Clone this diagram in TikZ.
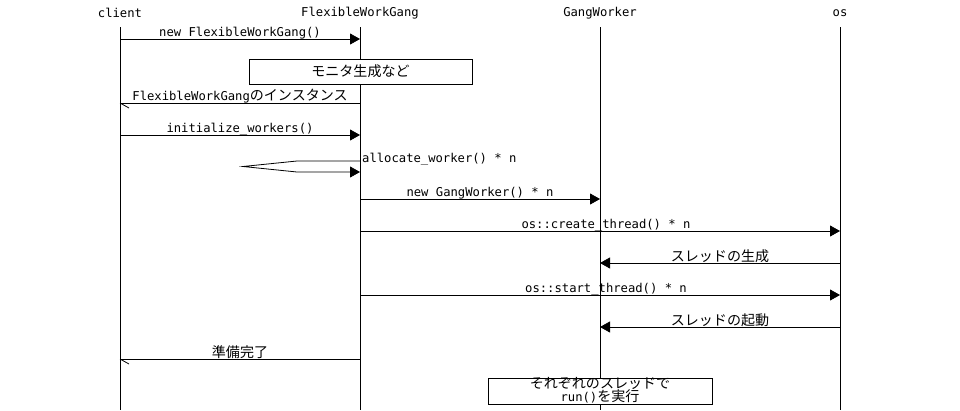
\documentclass[tikz,border=0pt]{standalone}
\usepackage{fontspec}
\setmainfont{DejaVu Sans Mono}
\newfontfamily\jp{Noto Sans CJK JP}[Scale=1.15]
\usetikzlibrary{arrows.meta}
\begin{document}
\begin{tikzpicture}[x=1pt,y=-1pt,
  lbl/.style={font=\fontsize{12.2}{13}\selectfont, inner sep=1pt},
  mlbl/.style={lbl, above=-1.5pt},
  life/.style={line width=0.8pt},
  msg/.style={line width=0.8pt, -{Triangle[length=10pt,width=11pt]}},
  ret/.style={line width=0.8pt},
  notebox/.style={draw, line width=0.8pt, fill=white}]
\useasboundingbox (0,0) rectangle (960,410);
\fill[white] (0,0) rectangle (960,410);
% headers
\node[lbl] (hc) at (120,13) {client};
\node[lbl] (hf) at (360,13) {FlexibleWorkGang};
\node[lbl] (hg) at (600,13) {GangWorker};
\node[lbl] (ho) at (840,13) {os};
% lifelines
\coordinate (c0) at (120,27); \coordinate (cE) at (120,410);
\coordinate (f0) at (360,27); \coordinate (fE) at (360,410);
\coordinate (g0) at (600,27); \coordinate (gE) at (600,410);
\coordinate (o0) at (840,27); \coordinate (oE) at (840,410);
\draw[life] (c0) -- (cE);
\draw[life] (f0) -- (fE);
\draw[life] (g0) -- (gE);
\draw[life] (o0) -- (oE);
% 1 new FlexibleWorkGang()
\coordinate (c1) at (120,39); \coordinate (f1) at (360,39);
\draw[msg] (c1) -- node[mlbl] {new FlexibleWorkGang()} (f1);
% note
\node[notebox, minimum width=223pt, minimum height=25pt, inner sep=0pt] (n1) at (360.5,71.5) {\jp\fontsize{12.2}{13}\selectfont モニタ生成など};
% 3 return
\coordinate (f3) at (360,103); \coordinate (c3) at (120,103);
\draw[ret] (f3) -- node[mlbl] {FlexibleWorkGang{\jp\fontsize{12.2}{13}\selectfont のインスタンス}} (c3);
\draw[ret] (c3) -- ++(9,5);
% 4 initialize_workers
\coordinate (c4) at (120,135); \coordinate (f4) at (360,135);
\draw[msg] (c4) -- node[mlbl] {initialize\_workers()} (f4);
% 5 self call
\coordinate (f5a) at (360,161); \coordinate (f5b) at (360,172);
\coordinate (s1) at (297,161); \coordinate (s2) at (243,166.5); \coordinate (s3) at (297,172);
\draw[msg] (f5a) -- (s1) -- (s2) -- (s3) -- (f5b);
\node[lbl, anchor=west] (l5) at (361,159.5) {allocate\_worker() * n};
% 6 new GangWorker
\coordinate (f6) at (360,199); \coordinate (g6) at (600,199);
\draw[msg] (f6) -- node[mlbl] {new GangWorker() * n} (g6);
% 7 create_thread
\coordinate (f7) at (360,231); \coordinate (o7) at (840,231);
\draw[msg] (f7) -- node[mlbl, xshift=6pt] {os::create\_thread() * n} (o7);
% 8 thread created
\coordinate (o8) at (840,263); \coordinate (g8) at (600,263);
\draw[msg] (o8) -- node[mlbl] {\jp\fontsize{12.2}{13}\selectfont スレッドの生成} (g8);
% 9 start_thread
\coordinate (f9) at (360,295); \coordinate (o9) at (840,295);
\draw[msg] (f9) -- node[mlbl, xshift=6pt] {os::start\_thread() * n} (o9);
% 10 thread started
\coordinate (o10) at (840,327); \coordinate (g10) at (600,327);
\draw[msg] (o10) -- node[mlbl] {\jp\fontsize{12.2}{13}\selectfont スレッドの起動} (g10);
% 11 ready
\coordinate (f11) at (360,359); \coordinate (c11) at (120,359);
\draw[ret] (f11) -- node[mlbl] {\jp\fontsize{12.2}{13}\selectfont 準備完了} (c11);
\draw[ret] (c11) -- ++(9,5);
% note 2
\node[notebox, minimum width=224pt, minimum height=26pt, inner sep=0pt] (n2) at (600,391) {};
\node[lbl, align=center, inner sep=0pt] (t2) at (600,390) {{\jp\fontsize{12.2}{12}\selectfont それぞれのスレッドで}\\[0pt]run(){\jp\fontsize{12.2}{12}\selectfont を実行}};
\end{tikzpicture}
\end{document}
